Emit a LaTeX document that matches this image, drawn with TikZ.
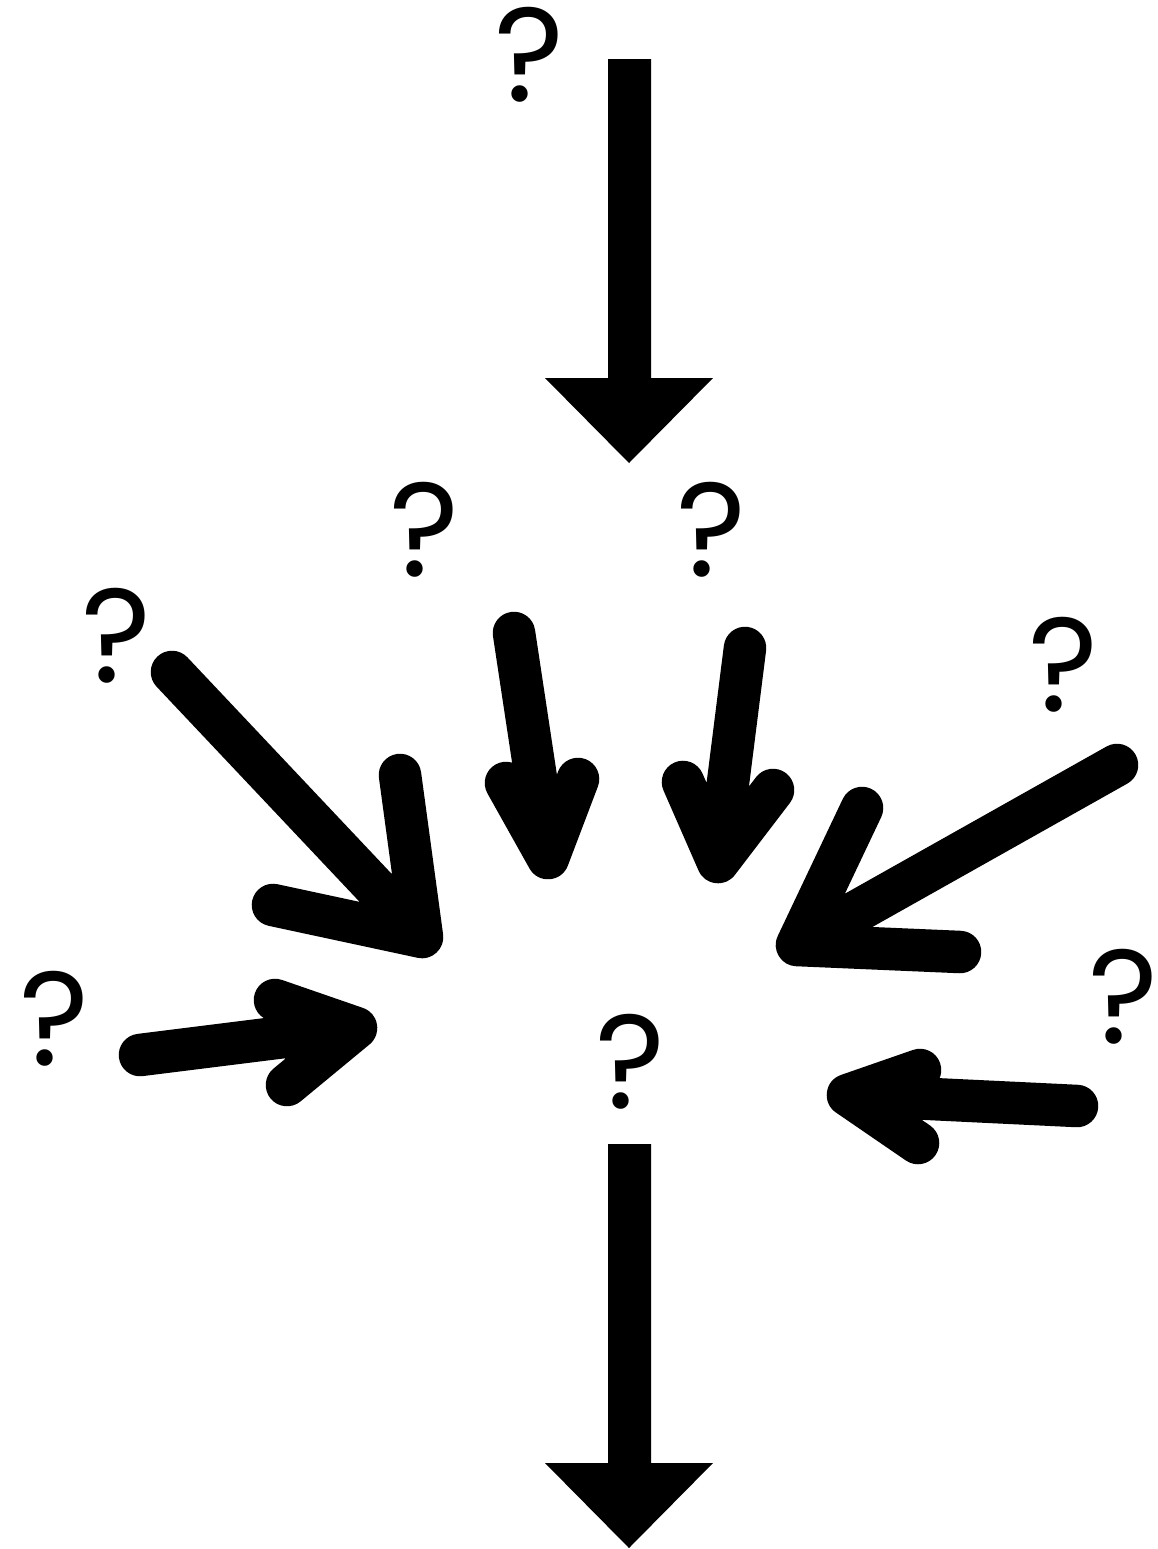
\documentclass[tikz,border=0pt]{standalone}
\usepackage{fontspec}
\newfontfamily\qfont{Poppins}
\begin{document}
\begin{tikzpicture}[
  x=0.02cm, y=-0.02cm,
  qmark/.style={font=\qfont\fontsize{76}{76}\selectfont, inner sep=0pt},
  brush/.style={line width=24.2pt, line cap=round, line join=round},
  bigarrow/.style={fill=black}
]
\useasboundingbox[fill=white] (0,0) rectangle (1157,1549);

% straight arrows, top and bottom
\foreach \dy in {0,1085}{
  \fill[bigarrow] (608,59+\dy) -- (651,59+\dy) -- (651,378+\dy)
    -- (713,378+\dy) -- (629,463+\dy) -- (545,378+\dy)
    -- (608,378+\dy) -- cycle;
}

% question marks
\foreach \n/\x/\y in {1/529/55, 2/424/530, 3/711/530, 4/116/636,
                      5/1063/665, 6/54/1019, 7/1123/997, 8/630/1062}
  \node[qmark] (q\n) at (\x,\y) {?};

% brush arrows, left side
\draw[brush] (172,672) -- (422,937) (273,905) -- (422,937) -- (400,775);
\draw[brush] (140,1055) -- (356,1028) (275,1000) -- (356,1028) -- (287,1085);
\fill (275,1000) -- (356,1028) -- (287,1085) -- (283,1037) -- cycle;

% brush arrows, middle
\draw[brush] (514,633) -- (548,858) (506,783) -- (548,858) -- (578,779);
\fill (506,783) -- (548,858) -- (578,779) -- (537,782) -- cycle;
\draw[brush] (745,648) -- (718,862) (683,782) -- (718,862) -- (773,790);
\fill (683,782) -- (718,862) -- (773,790) -- (728,786) -- cycle;

% brush arrows, right side
\draw[brush] (1117,765) -- (797,945) (862,808) -- (797,945) -- (960,952);
\draw[brush] (1077,1106) -- (848,1095) (920,1070) -- (848,1095) -- (918,1143);
\fill (920,1070) -- (848,1095) -- (918,1143) -- (918,1098) -- cycle;
\end{tikzpicture}
\end{document}
